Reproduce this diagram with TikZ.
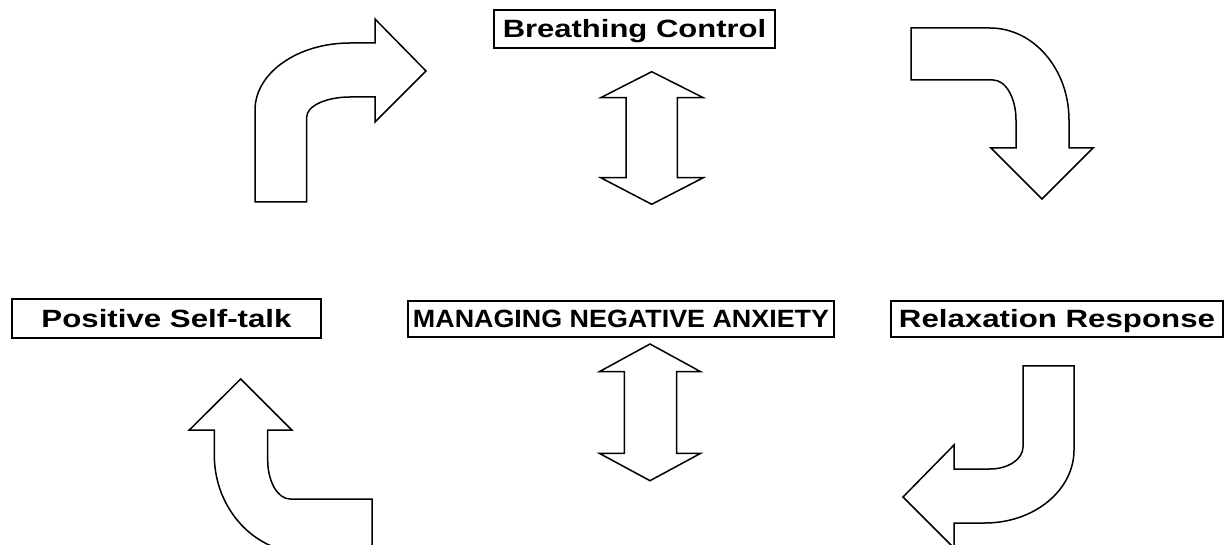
\documentclass[tikz,border=0pt]{standalone}
\usepackage{fontspec}
\setmainfont{Liberation Sans}
\begin{document}
\begin{tikzpicture}[x=1pt,y=-1pt,
  lbl/.style={draw, line width=2.3pt, rectangle, inner sep=0pt,
    text height=18pt, text depth=0pt,
    font=\fontsize{25}{30}\selectfont\bfseries},
  blockarrow/.style={draw, line width=1.5pt, fill=white, line join=miter}]
\useasboundingbox (0,0) rectangle (1232,545);
\clip (0,0) rectangle (1232,545);

% labels
\node[lbl, minimum width=281pt, minimum height=38pt] (breath) at (634.5,29)
  {\scalebox{1.24}[1]{Breathing Control}};
\node[lbl, minimum width=309pt, minimum height=39pt] (self) at (166.5,318.5)
  {\scalebox{1.25}[1]{Positive Self-talk}};
\node[lbl, minimum width=426pt, minimum height=36pt] (manage) at (621,319)
  {\scalebox{1.075}[1]{MANAGING NEGATIVE ANXIETY}};
\node[lbl, minimum width=332pt, minimum height=36pt] (relax) at (1057,319)
  {\scalebox{1.25}[1]{Relaxation Response}};

% bent arrow, up then right
\draw[blockarrow] (255,202) -- (255,110)
  .. controls (255,73) and (297.6,43) .. (350,43)
  -- (375,43) -- (375,19) -- (426,71) -- (375,122) -- (375,97) -- (350,97)
  .. controls (326.1,97) and (306.7,106) .. (306.7,117)
  -- (306.7,202) -- cycle;

% bent arrow, right then down
\draw[blockarrow] (911,28) -- (990,28)
  .. controls (1033.6,28) and (1069,69.2) .. (1069,120)
  -- (1069,148) -- (1093,148) -- (1042,199) -- (991,148) -- (1016,148)
  -- (1016,120)
  .. controls (1016,97.9) and (1005.7,80) .. (993,80)
  -- (911,80) -- cycle;

% bent arrow, down then left
\draw[blockarrow] (1074,366) -- (1074,450)
  .. controls (1074,490.3) and (1034.1,523) .. (985,523)
  -- (954,523) -- (954,548) -- (903,497) -- (954,445) -- (954,469) -- (990,469)
  .. controls (1008.2,469) and (1023,459.1) .. (1023,447)
  -- (1023,366) -- cycle;

% bent arrow, left then up
\draw[blockarrow] (372,553) -- (372,499) -- (290,499)
  .. controls (277.7,499) and (267.7,481.5) .. (267.7,460)
  -- (267.7,430) -- (291.7,430) -- (240.7,379) -- (189.3,430) -- (214.3,430)
  -- (214.3,455)
  .. controls (214.3,509.1) and (254.9,553) .. (305,553)
  -- cycle;

% double-headed arrows
\draw[blockarrow] (651.7,71.7) -- (703.3,97.7) -- (677.3,97.7) -- (677.3,177.7)
  -- (703.3,177.7) -- (651.7,204.3) -- (600.7,177.7) -- (626,177.7)
  -- (626,97.7) -- (600.7,97.7) -- cycle;
\draw[blockarrow] (650,344) -- (700.7,371.7) -- (676.7,371.7) -- (676.7,453.3)
  -- (700.7,453.3) -- (650,480.7) -- (599.3,453.3) -- (624.3,453.3)
  -- (624.3,371.7) -- (599.3,371.7) -- cycle;
\end{tikzpicture}
\end{document}
